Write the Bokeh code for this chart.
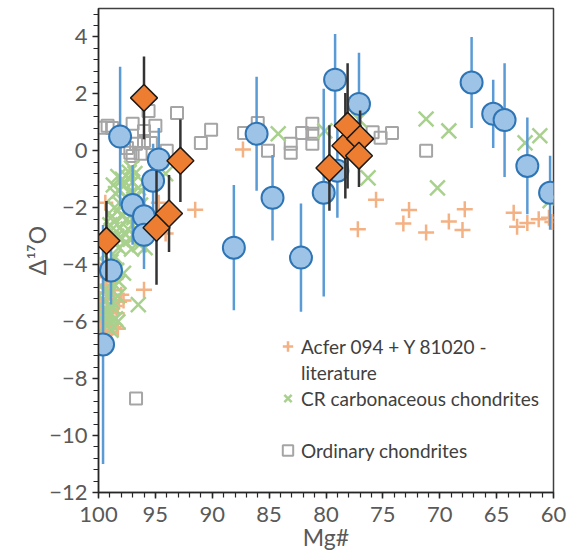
import numpy as np
from bokeh.plotting import figure
from bokeh.models import (Range1d, SingleIntervalTicker, ColumnDataSource,
                          Legend, LegendItem)
from bokeh.embed import file_html
from bokeh.resources import INLINE

# ---------------- data (Mg#, Delta17O) ----------------
# Blue circles with error bars
circ_mg = [99.6, 98.9, 98.1, 97.0, 96.0, 96.0, 95.2, 94.7, 88.1, 86.1, 84.7,
           82.2, 79.2, 79.0, 80.2, 77.1, 67.2, 65.3, 64.3, 62.3, 60.3]
circ_d17o = [-6.8, -4.2, 0.5, -1.9, -2.3, -2.95, -1.05, -0.3, -3.4, 0.6, -1.65,
             -3.75, 2.5, -0.7, -1.47, 1.65, 2.4, 1.3, 1.08, -0.53, -1.47]
circ_err = [4.2, 1.2, 2.45, 1.4, 1.3, 1.2, 1.3, 1.1, 2.2, 2.0, 1.5,
            1.9, 1.6, 1.65, 3.65, 1.8, 1.6, 1.2, 2.0, 1.7, 1.3]

# Orange diamonds with error bars
dia_mg = [99.3, 96.0, 94.9, 93.8, 92.8, 79.7, 78.3, 78.1, 77.0, 77.1]
dia_d17o = [-3.16, 1.86, -2.7, -2.2, -0.35, -0.6, 0.18, 0.88, 0.42, -0.17]
dia_err = [1.4, 1.45, 2.0, 1.35, 1.45, 1.5, 1.85, 2.2, 1.0, 1.1]

# Acfer 094 + Y 81020 - literature
acf_mg = [99.4, 99.0, 99.6, 98.6, 99.3, 98.2, 99.7, 98.9, 99.5, 99.1, 99.8,
          99.4, 98.7, 98.0, 97.8, 99.2, 98.4, 99.0, 98.8, 99.8, 98.5, 99.3,
          99.9, 98.6, 99.2, 99.7, 98.9, 99.6, 98.3, 99.85,
          96.0, 94.1, 94.7, 91.5, 87.3, 75.6, 77.2, 72.7, 73.2, 71.2, 69.2,
          67.8, 68.0, 63.5, 63.2, 62.3, 61.3, 60.4, 60.1]
acf_d17o = [-1.82, -4.4, -4.7, -4.9, -5.2, -5.3, -5.5, -5.6, -5.9, -6.1, -6.3,
            -6.45, -6.2, -5.05, -5.26, -5.0, -5.7, -6.35, -4.6, -4.2, -4.5, -4.8,
            -5.2, -5.45, -5.85, -6.0, -6.4, -6.55, -6.25, -5.75,
            -4.88, -2.9, -1.82, -2.07, 0.05, -1.72, -2.75, -2.08, -2.55, -2.87, -2.48,
            -2.05, -2.78, -2.17, -2.67, -2.53, -2.4, -2.35, -2.5]

# CR carbonaceous chondrites
cr_mg = [97.4, 96.8, 97.0, 96.5, 97.8, 97.2, 96.9, 97.6, 98.0, 97.3, 96.6,
         97.9, 98.3, 97.5, 98.6, 97.0, 98.1, 97.7, 98.4, 97.2, 96.4, 97.6,
         98.2, 98.8, 95.9, 94.1, 98.5, 97.1, 97.9, 98.2, 96.7, 97.4, 98.0,
         96.9, 97.1, 98.6, 98.9, 98.7, 96.3, 96.2, 98.8, 97.3, 98.3, 97.6,
         96.8, 98.5, 99.0, 99.1, 98.6,
         98.9, 98.4, 97.8, 99.2, 98.6, 99.0, 98.3, 99.3, 98.2, 99.5, 98.8,
         99.2, 98.3, 99.6, 99.0,
         99.4, 98.7, 99.1, 98.5, 99.3, 98.9, 96.5, 84.2, 80.1, 77.1, 76.3,
         71.2, 69.2, 70.2, 62.5, 61.2, 60.3]
cr_d17o = [-0.95, -0.8, -1.1, -1.3, -1.2, -1.5, -1.7, -1.6, -1.9, -2.0, -2.1,
           -2.3, -2.1, -2.4, -2.5, -2.6, -2.7, -2.9, -3.0, -3.1, -3.3, -3.2,
           -3.4, -3.1, -3.4, -0.8, -1.5, -0.6, -1.0, -1.4, -1.55, -2.75, -3.1,
           -2.35, -3.45, -2.0, -2.8, -1.2, -1.9, -2.6, -2.3, -0.75, -0.9, -2.1,
           -3.0, -3.3, -2.6, -3.5, -3.7,
           -3.9, -4.2, -4.3, -4.5, -4.7, -5.0, -5.1, -4.0, -4.6, -4.9, -5.3,
           -5.6, -6.0, -5.75, -6.05,
           -5.3, -5.5, -5.8, -5.9, -6.1, -6.3, -5.4, 0.6, 0.7, 1.1, -0.95,
           1.12, 0.7, -1.3, 0.28, 0.53, -1.75]

# Ordinary chondrites
oc_mg = [99.8, 99.2, 98.8, 97.0, 95.6, 95.0, 96.0, 96.0, 95.4, 96.7, 97.2,
         97.5, 97.0, 96.3, 94.0, 93.1, 91.0, 90.1, 87.2, 86.0, 85.1, 83.1,
         83.1, 82.1, 81.2, 81.2, 81.2, 75.9, 75.2, 74.2, 71.2, 96.7]
oc_d17o = [0.81, 0.88, 0.8, 0.95, 1.4, 0.88, 0.7, 0.35, 0.28, 0.25, -0.07,
           0.1, -0.18, -0.1, 0.0, 1.33, 0.28, 0.74, 0.63, 0.98, 0.0, 0.25,
           -0.07, 0.63, 0.95, 0.6, 0.25, 0.65, 0.46, 0.63, 0.0, -8.7]

x_ticks_interval = 5
y_ticks_interval = 2
legend_labels = ["Acfer 094 + Y 81020 -", "literature",
                 "CR carbonaceous chondrites", " ", "Ordinary chondrites"]

# ---------------- figure ----------------
FONT = "Lato"
TXT = "#595959"

p = figure(width=567, height=556, output_backend="svg", toolbar_location=None,
           x_range=Range1d(100, 60), y_range=Range1d(-12, 5),
           min_border_left=98, min_border_right=14, min_border_top=8,
           min_border_bottom=64)
p.background_fill_color = "white"
p.border_fill_color = "white"
p.xgrid.visible = False
p.ygrid.visible = False
p.outline_line_color = "#404040"
p.outline_line_width = 1.5

# Ordinary chondrites
r_oc = p.scatter(oc_mg, oc_d17o, marker="square", size=12, fill_color=None,
                 line_color="#A5A5A5", line_width=2)
# Acfer literature
r_acf = p.scatter(acf_mg, acf_d17o, marker="cross", size=16,
                  line_color="#F4B183", line_width=2.5)
# CR
r_cr = p.scatter(cr_mg, cr_d17o, marker="x", size=21,
                 line_color="#A9D18E", line_width=2.5)
# blank legend spacer
r_blank = p.scatter(x=[], y=[], marker="square", size=1, fill_alpha=0, line_alpha=0)

# blue circles + error bars
c_src = ColumnDataSource(dict(
    x=circ_mg, y=circ_d17o,
    lo=[v - e for v, e in zip(circ_d17o, circ_err)],
    hi=[v + e for v, e in zip(circ_d17o, circ_err)]))
p.segment(x0="x", y0="lo", x1="x", y1="hi", source=c_src,
          line_color="#5B9BD5", line_width=2.5)
p.scatter("x", "y", source=c_src, marker="circle", size=22,
          fill_color="#9DC3E6", line_color="#2E75B6", line_width=2)

# orange diamonds + error bars
d_src = ColumnDataSource(dict(
    x=dia_mg, y=dia_d17o,
    lo=[v - e for v, e in zip(dia_d17o, dia_err)],
    hi=[v + e for v, e in zip(dia_d17o, dia_err)]))
p.segment(x0="x", y0="lo", x1="x", y1="hi", source=d_src,
          line_color="#333333", line_width=2.5)
p.scatter("x", "y", source=d_src, marker="square", angle=np.pi / 4, size=19,
          fill_color="#ED7D31", line_color="#1a1a1a", line_width=1.5)

# axes
for ax in (p.xaxis[0], p.yaxis[0]):
    ax.axis_line_color = "#262626"
    ax.axis_line_width = 1.5
    ax.major_tick_line_color = "#262626"
    ax.minor_tick_line_color = "#262626"
    ax.major_tick_line_width = 1.5
    ax.minor_tick_line_width = 1.2
    ax.major_tick_in = 0
    ax.minor_tick_in = 0
    ax.major_tick_out = 6
    ax.minor_tick_out = 5
    ax.major_label_text_font = FONT
    ax.major_label_text_font_size = "22px"
    ax.major_label_text_color = TXT
    ax.axis_label_text_font = FONT
    ax.axis_label_text_font_size = "23px"
    ax.axis_label_text_color = TXT
    ax.axis_label_text_font_style = "normal"

p.xaxis.ticker = SingleIntervalTicker(interval=x_ticks_interval, num_minor_ticks=5)
p.yaxis.ticker = SingleIntervalTicker(interval=y_ticks_interval, num_minor_ticks=5)
p.xaxis.axis_label = "Mg#"
p.yaxis.axis_label = "Δ¹⁷O"
p.xaxis.major_label_standoff = 8
p.xaxis.axis_label_standoff = -2
p.yaxis.major_label_standoff = 5
p.yaxis.axis_label_standoff = -5

legend = Legend(items=[
    LegendItem(label=legend_labels[0], renderers=[r_acf]),
    LegendItem(label=legend_labels[1], renderers=[r_blank]),
    LegendItem(label=legend_labels[2], renderers=[r_cr]),
    LegendItem(label=legend_labels[3], renderers=[r_blank]),
    LegendItem(label=legend_labels[4], renderers=[r_oc]),
], location=(176, 29))
legend.glyph_width = 27
legend.glyph_height = 26
legend.label_height = 26
legend.label_standoff = -6
legend.spacing = 0
legend.padding = 0
legend.margin = 0
legend.border_line_alpha = 0
legend.background_fill_alpha = 0
legend.label_text_font = FONT
legend.label_text_font_size = "19px"
legend.label_text_color = "#404040"
p.add_layout(legend)

open("out.html", "w").write(file_html(p, INLINE))
